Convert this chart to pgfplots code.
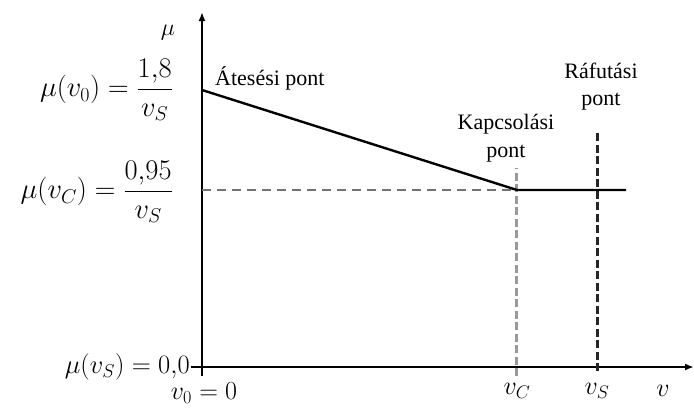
\RequirePackage{fix-cm}
\documentclass[border=0pt]{standalone}
\usepackage{amsmath}
\usepackage{fontspec}
\setmainfont{Liberation Serif}
\usepackage{pgfplots}
\pgfplotsset{compat=1.18}
\usetikzlibrary{arrows.meta}
\begin{document}
\begin{tikzpicture}
\begin{axis}[
  x=1pt, y=1pt, anchor=origin, at={(0,0)},
  xmin=0, xmax=492, ymin=0, ymax=355,
  axis lines=left,
  axis line style={line width=2.2pt, -{Latex[length=9pt,width=7pt]}},
  xtick=\empty, ytick=\empty,
  clip=false,
]
% dashed helper lines
\addplot[color=black!55, line width=1.4pt, dash pattern=on 9pt off 6pt] coordinates {(0,177) (315,177)};
\addplot[color=black!40, line width=3pt, dash pattern=on 8pt off 3.5pt] coordinates {(315,-9) (315,199)};
\addplot[color=black!85, line width=3pt, dash pattern=on 8pt off 3.5pt] coordinates {(395,-4) (395,235)};
% main curve
\addplot[black, line width=2.4pt] coordinates {(0,277) (315,177) (424,177)};
% small tick and axis extension at origin
\addplot[black, line width=1.6pt] coordinates {(-11,0) (0,0)};
\addplot[black, line width=2.2pt] coordinates {(0,0) (0,-9)};
% labels
\node[anchor=base west, inner sep=0pt, font=\fontsize{22}{26}\selectfont] at (axis cs:13,282) {Átesési pont};
\node[anchor=base, inner sep=0pt, font=\fontsize{22}{26}\selectfont] at (axis cs:304,238) {Kapcsolási};
\node[anchor=base, inner sep=0pt, font=\fontsize{22}{26}\selectfont] at (axis cs:304,210) {pont};
\node[anchor=base, inner sep=0pt, font=\fontsize{22}{26}\selectfont] at (axis cs:399,289) {Ráfutási};
\node[anchor=base, inner sep=0pt, font=\fontsize{22}{26}\selectfont] at (axis cs:399,262) {pont};
% y labels
\node[anchor=east, inner sep=0pt, font=\fontsize{28.5}{32}\selectfont] at (axis cs:-29,277) {$\mu(v_0)=\dfrac{1{,}8}{v_S}$};
\node[anchor=east, inner sep=0pt, font=\fontsize{28.5}{32}\selectfont] at (axis cs:-29,175) {$\mu(v_C)=\dfrac{0{,}95}{v_S}$};
\node[anchor=east, inner sep=0pt, font=\fontsize{26.5}{30}\selectfont] at (axis cs:-12,0) {$\mu(v_S)=0{,}0$};
\node[inner sep=0pt, font=\fontsize{24}{28}\selectfont] at (axis cs:-34,334) {$\mu$};
% x labels
\node[anchor=north, inner sep=0pt, font=\fontsize{26}{30}\selectfont] at (axis cs:2,-16) {$v_0=0$};
\node[anchor=north, inner sep=0pt, font=\fontsize{26}{30}\selectfont] at (axis cs:315,-16) {$v_C$};
\node[anchor=north, inner sep=0pt, font=\fontsize{26}{30}\selectfont] at (axis cs:395,-16) {$v_S$};
\node[anchor=north, inner sep=0pt, font=\fontsize{26}{30}\selectfont] at (axis cs:461,-18) {$v$};
\end{axis}
\pgfresetboundingbox
\path[use as bounding box] (-202pt,-41pt) rectangle (492pt,367pt);
\end{tikzpicture}
\end{document}
